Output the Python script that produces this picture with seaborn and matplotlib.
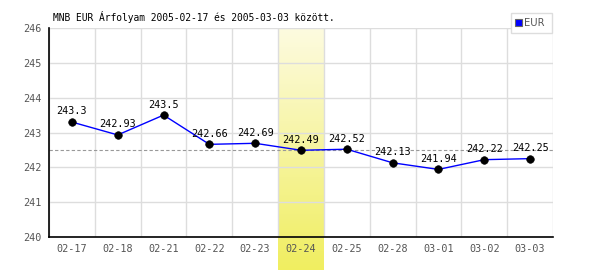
import numpy as np
import pandas as pd
import matplotlib
matplotlib.use("Agg")
import matplotlib.pyplot as plt
import seaborn as sns
from matplotlib.patches import Rectangle

dates = ["02-17", "02-18", "02-21", "02-22", "02-23", "02-24",
         "02-25", "02-28", "03-01", "03-02", "03-03"]
rates = [243.3, 242.93, 243.5, 242.66, 242.69, 242.49,
         242.52, 242.13, 241.94, 242.22, 242.25]
labels = ["243.3", "242.93", "243.5", "242.66", "242.69", "242.49",
          "242.52", "242.13", "241.94", "242.22", "242.25"]
average = 242.5
highlight = "02-24"
title = "MNB EUR Árfolyam 2005-02-17 és 2005-03-03 között."
series = "EUR"
yticks = [240, 241, 242, 243, 244, 245, 246]

sns.set_style("white")
plt.rcParams["font.family"] = ["DejaVu Sans Mono"]

df = pd.DataFrame({"date": dates, "rate": rates})
df["pos"] = np.arange(len(df))

fig = plt.figure(figsize=(6, 2.7), dpi=100)
ax = fig.add_axes([49/600, 1 - 237/270, (553-49)/600, (237-28)/270])

ymin, ymax = 240, 246
n = len(dates)

# highlight band with gradient, extending below the axis
hi = dates.index(highlight)
ybot = ymin - (270 - 237) / (209 / 6)
grad = np.linspace(0, 1, 256).reshape(-1, 1)
cmap = matplotlib.colors.LinearSegmentedColormap.from_list(
    "hl", ["#fdfbe0", "#f0ee60"])
ax.imshow(grad, extent=[hi - 0.5, hi + 0.5, ybot, ymax], origin="upper",
          cmap=cmap, aspect="auto", clip_on=False, zorder=0)
ax.set_xlim(-0.5, n - 0.5)
ax.set_ylim(ymin, ymax)

# grid
for y in yticks:
    ax.axhline(y, color="#dddddd", lw=1, zorder=1)
for x in np.arange(n + 1) - 0.5:
    ax.axvline(x, color="#dddddd", lw=1, zorder=1)

ax.axhline(average, color="#999999", lw=0.8, ls=(0, (3, 2)), zorder=2)

sns.lineplot(data=df, x="pos", y="rate", color="#0000ff", lw=1,
             ax=ax, zorder=3, legend=False)
sns.scatterplot(data=df, x="pos", y="rate", color="black", s=30,
                edgecolor="black", ax=ax, zorder=4, legend=False)

for p, r, t in zip(df["pos"], rates, labels):
    ax.annotate(t, (p, r), xytext=(0, 4), textcoords="offset points",
                ha="center", va="bottom", fontsize=7.3, color="black", zorder=5)

ax.set_xticks(df["pos"])
ax.set_xticklabels(dates)
ax.set_yticks(yticks)
ax.tick_params(axis="both", length=0, labelsize=7.3, colors="#555555")
ax.tick_params(axis="x", pad=5)
ax.tick_params(axis="y", pad=5)
ax.set_xlabel("")
ax.set_ylabel("")
ax.set_xlim(-0.5, n - 0.5)
ax.set_ylim(ymin, ymax)

for s in ["top", "right"]:
    ax.spines[s].set_visible(False)
for s in ["left", "bottom"]:
    ax.spines[s].set_color("black")
    ax.spines[s].set_linewidth(1.2)

fig.text(53/600, 1 - 17/270, title, fontsize=6.9, color="black",
         ha="left", va="center")

# legend
fig.patches.append(Rectangle((511/600, 1 - 33/270), 41/600, 20/270,
                             transform=fig.transFigure, facecolor="white",
                             edgecolor="#dddddd", lw=1, zorder=6))
fig.patches.append(Rectangle((515/600, 1 - 26/270), 7/600, 7/270,
                             transform=fig.transFigure, facecolor="#0000ff",
                             edgecolor="#666666", lw=0.8, zorder=7))
fig.text(524/600, 1 - 22.5/270, series, fontsize=7.2, color="#555555",
         family="DejaVu Sans", ha="left", va="center", zorder=8)

fig.savefig("out.png", dpi=100)
